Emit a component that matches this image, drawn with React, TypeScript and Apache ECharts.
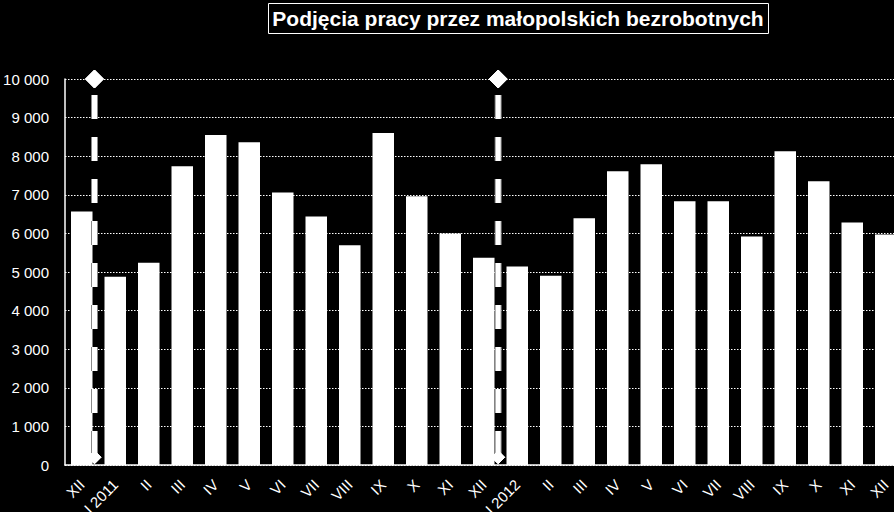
import React, { useEffect, useRef } from "react";
import * as echarts from "echarts";

const TITLE = "Podjęcia pracy przez małopolskich bezrobotnych";

const categories = [
  "XII", "I 2011", "II", "III", "IV", "V", "VI", "VII", "VIII", "IX", "X", "XI",
  "XII", "I 2012", "II", "III", "IV", "V", "VI", "VII", "VIII", "IX", "X", "XI", "XII",
];

const podjecia = [
  6570, 4880, 5240, 7740, 8550, 8360, 7060, 6440, 5690, 8600, 6960, 6000,
  5370, 5140, 4900, 6390, 7610, 7790, 6830, 6830, 5920, 8130, 7350, 6280, 5970,
];

const yTicks = { min: 0, max: 10000, interval: 1000 };

// year separators (position on the category scale, top & bottom value)
const sep2011 = [[0.88, 10000], [0.88, 200]];
const sep2012 = [[12.93, 10000], [12.93, 200]];

const FONT = "'Liberation Sans', Arial, sans-serif";

function fmt(v: number): string {
  return String(v).replace(/\B(?=(\d{3})+(?!\d))/g, " ");
}

function sepSeries(data: number[][], color: string, width: number) {
  return {
    type: "line",
    xAxisIndex: 1,
    yAxisIndex: 0,
    data: data.map((d, i) => ({
      value: d,
      symbolSize: i === 0 ? 18 : 13,
    })),
    symbol: "diamond",
    showSymbol: true,
    itemStyle: { color: "#fff", borderColor: "#fff" },
    lineStyle: { color, width, type: [24, 18], dashOffset: 26 },
    silent: true,
    z: 5,
  };
}

export default function App() {
  const ref = useRef<HTMLDivElement>(null);

  useEffect(() => {
    if (!ref.current) return;
    const chart = echarts.init(ref.current, undefined, { renderer: "svg" });
    chart.setOption({
      animation: false,
      backgroundColor: "#000",
      textStyle: { fontFamily: FONT },
      graphic: [
        {
          type: "rect",
          shape: { x: 268.5, y: 3.5, width: 500, height: 30 },
          style: { fill: "#000", stroke: "#fff", lineWidth: 1 },
          z: 10,
        },
        {
          type: "text",
          x: 518,
          y: 18.5,
          style: {
            text: TITLE,
            fill: "#fff",
            font: `bold 21px ${FONT}`,
            textAlign: "center",
            textVerticalAlign: "middle",
          },
          z: 11,
        },
      ],
      grid: {
        left: 65,
        right: 7.5,
        top: 79,
        bottom: 47,
        containLabel: false,
        outerBoundsMode: "none",
      },
      xAxis: [
        {
          type: "category",
          data: categories,
          boundaryGap: true,
          axisLine: { show: true, lineStyle: { color: "#fff", width: 1.5 } },
          axisTick: { show: false },
          axisLabel: {
            color: "#fff",
            fontSize: 15,
            fontFamily: FONT,
            rotate: 45,
            interval: 0,
            margin: 17,
          },
          splitLine: { show: false },
        },
        {
          type: "value",
          min: 0,
          max: 25,
          show: false,
          splitLine: { show: false },
        },
      ],
      yAxis: {
        type: "value",
        min: yTicks.min,
        max: yTicks.max,
        interval: yTicks.interval,
        axisLine: { show: true, lineStyle: { color: "#fff", width: 1.5 } },
        axisTick: { show: false },
        axisLabel: {
          color: "#fff",
          fontSize: 15,
          fontFamily: FONT,
          margin: 16,
          formatter: (v: number) => fmt(v),
        },
        splitLine: {
          show: true,
          lineStyle: { color: "#fff", width: 1, type: [1.5, 1.5] },
        },
      },
      series: [
        {
          type: "bar",
          data: podjecia,
          barWidth: 21.5,
          itemStyle: { color: "#fff" },
          z: 2,
        },
        sepSeries(sep2011, "#888", 7),
        sepSeries(sep2011, "#fff", 5),
        sepSeries(sep2012, "#888", 7),
        sepSeries(sep2012, "#fff", 5),
      ],
    });
    return () => chart.dispose();
  }, []);

  return (
    <div
      style={{
        position: "absolute",
        left: 0,
        top: 0,
        width: 894,
        height: 512,
        overflow: "hidden",
        background: "#000",
      }}
    >
      <div ref={ref} style={{ width: 910, height: 512 }} />
    </div>
  );
}
